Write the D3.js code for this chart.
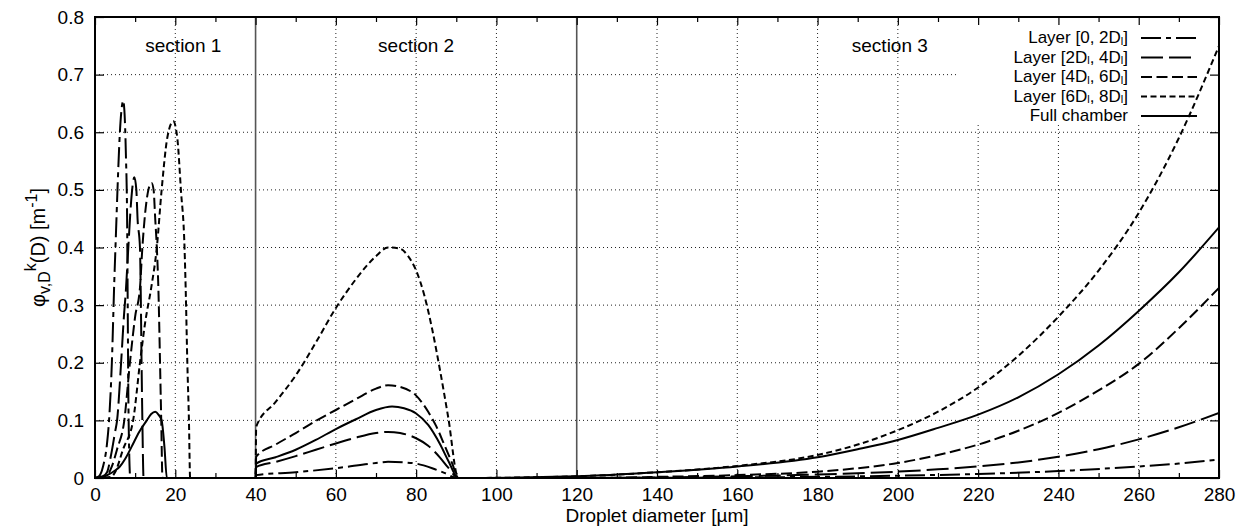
<!DOCTYPE html>
<html>
<head>
<meta charset="utf-8">
<script src="https://cdn.jsdelivr.net/npm/d3@7"></script>
<style>
body { margin: 0; background: #fff; }
svg { font-family: "Liberation Sans", Arial, sans-serif; }
</style>
</head>
<body>
<svg width="1253" height="530"></svg>
<script>
// droplet diameter [um] -> phi value, one array per layer
const layer0 = [[0,0],[1,0.003],[2,0.02],[3,0.06],[3.5,0.1],[4.2,0.2],[4.8,0.34],[5.2,0.42],[5.6,0.5],[6.2,0.6],[6.7,0.645],[7.0,0.655],[7.3,0.64],[7.7,0.56],[8.0,0.45],[8.15,0.3],[8.3,0.15],[8.5,0.05],[8.8,0],
  [40,0],[40.15,0.005],[50,0.01],[60,0.017],[70,0.026],[73,0.028],[77,0.027],[80,0.025],[84,0.017],[87,0.009],[90.3,0],
  [120,0],[160,0.001],[180,0.002],[200,0.004],[220,0.007],[240,0.012],[260,0.02],[270,0.025],[280,0.032]];

const layer2 = [[0,0],[2,0.003],[3,0.01],[4,0.04],[5,0.08],[5.5,0.1],[6.5,0.2],[7.2,0.28],[7.7,0.326],[8.3,0.4],[9,0.48],[9.8,0.522],[10.3,0.5],[10.6,0.45],[11.2,0.4],[11.4,0.32],[11.6,0.2],[11.8,0.1],[12.1,0],
  [40,0],[40.15,0.019],[45,0.028],[50,0.038],[55,0.049],[60,0.06],[65,0.07],[70,0.078],[73,0.08],[76,0.078],[80,0.069],[83,0.056],[86,0.035],[88,0.018],[90.5,0],
  [120,0],[140,0.001],[160,0.003],[180,0.006],[200,0.011],[210,0.015],[220,0.02],[230,0.027],[240,0.037],[250,0.05],[260,0.067],[270,0.088],[280,0.113]];

const layer4 = [[0,0],[3,0.005],[4.2,0.02],[5.5,0.05],[7.3,0.1],[8.7,0.2],[10,0.28],[11.2,0.33],[11.8,0.4],[13.3,0.5],[14.1,0.512],[14.6,0.5],[15,0.45],[15.4,0.4],[15.8,0.326],[16.2,0.2],[16.5,0.1],[16.8,0],
  [40,0],[40.15,0.037],[45,0.058],[50,0.078],[55,0.099],[60,0.118],[65,0.137],[70,0.155],[73,0.161],[76,0.158],[80,0.143],[83,0.115],[85,0.09],[87,0.058],[89,0.025],[90.5,0],
  [120,0],[140,0.002],[160,0.005],[180,0.011],[190,0.017],[200,0.026],[210,0.04],[220,0.058],[230,0.082],[240,0.113],[250,0.152],[260,0.198],[270,0.26],[280,0.33]];

const layer6 = [[0,0],[4,0.002],[5,0.01],[7,0.05],[9.5,0.1],[11.2,0.2],[12.5,0.27],[14,0.33],[15.4,0.4],[16.6,0.5],[18,0.59],[19.5,0.619],[20.5,0.59],[21.4,0.5],[22.3,0.4],[22.6,0.326],[23,0.2],[23.4,0.1],[23.7,0],
  [40,0],[40.15,0.089],[45,0.132],[50,0.178],[55,0.235],[60,0.295],[65,0.345],[70,0.385],[73,0.4],[76,0.398],[78,0.385],[80,0.36],[82,0.318],[84,0.258],[86,0.185],[88,0.105],[90.5,0],
  [120,0.003],[140,0.01],[160,0.021],[180,0.04],[190,0.058],[200,0.083],[210,0.115],[220,0.157],[230,0.212],[240,0.28],[250,0.36],[260,0.46],[270,0.59],[280,0.75]];

const fullChamber = [[0,0],[1,0.0005],[2,0.002],[3.3,0.006],[5,0.013],[6.2,0.02],[7.5,0.033],[9.1,0.054],[11,0.08],[12.9,0.1],[14,0.111],[15,0.115],[15.8,0.11],[16.6,0.1],[17.3,0.054],[17.9,0],
  [40,0],[40.15,0.025],[45,0.036],[50,0.049],[55,0.066],[60,0.085],[65,0.102],[70,0.118],[74,0.124],[77,0.121],[80,0.112],[83,0.092],[86,0.058],[88,0.03],[90.5,0],
  [120,0.003],[140,0.01],[160,0.02],[180,0.036],[190,0.05],[200,0.066],[210,0.087],[220,0.11],[230,0.14],[240,0.18],[250,0.23],[260,0.29],[270,0.357],[280,0.435]];

const seriesNames = ["Layer [0, 2D_l]", "Layer [2D_l, 4D_l]", "Layer [4D_l, 6D_l]", "Layer [6D_l, 8D_l]", "Full chamber"];
const seriesData = [layer0, layer2, layer4, layer6, fullChamber];
const dashes = ["20,5,5,5", "22,6", "11,4.5", "6,3.5", null];

const sectionBounds = [40, 120];
const sectionLabels = [[22, "section 1"], [80, "section 2"], [198, "section 3"]];

const svg = d3.select("svg");
const margin = { top: 17, right: 34, bottom: 52, left: 95 };
const W = 1253, H = 530;
const FS = 19;

const x = d3.scaleLinear().domain([0, 280]).range([margin.left, W - margin.right]);
const y = d3.scaleLinear().domain([0, 0.8]).range([H - margin.bottom, margin.top]);

svg.append("rect").attr("width", W).attr("height", H).attr("fill", "#fff");

svg.append("clipPath").attr("id", "plot")
  .append("rect")
    .attr("x", x(0)).attr("y", y(0.8))
    .attr("width", x(280) - x(0)).attr("height", y(0) - y(0.8));

// grid
const grid = svg.append("g").attr("stroke", "#222").attr("stroke-width", 1).attr("stroke-dasharray", "1,3");
grid.selectAll(".gx")
  .data(d3.range(20, 280, 20).filter(d => !sectionBounds.includes(d)))
  .enter().append("line")
    .attr("x1", d => x(d)).attr("x2", d => x(d))
    .attr("y1", y(0)).attr("y2", y(0.8));
grid.selectAll(".gy")
  .data(d3.range(1, 8).map(d => d / 10))
  .enter().append("line")
    .attr("x1", x(0)).attr("x2", x(280))
    .attr("y1", d => y(d)).attr("y2", d => y(d));

// section dividers
svg.selectAll(".sec")
  .data(sectionBounds)
  .enter().append("line")
    .attr("x1", d => x(d)).attr("x2", d => x(d))
    .attr("y1", y(0)).attr("y2", y(0.8))
    .attr("stroke", "#555").attr("stroke-width", 1.6);

svg.selectAll(".seclabel")
  .data(sectionLabels)
  .enter().append("text")
    .attr("x", d => x(d[0])).attr("y", 52)
    .attr("text-anchor", "middle")
    .attr("font-size", FS)
    .text(d => d[1]);

// key background
svg.append("rect")
  .attr("x", 958).attr("y", y(0.8) + 1)
  .attr("width", x(280) - 958).attr("height", 107)
  .attr("fill", "#fff");

// curves
const line = d3.line()
  .x(d => x(d[0]))
  .y(d => y(d[1]))
  .curve(d3.curveMonotoneX);

svg.append("g").attr("clip-path", "url(#plot)")
  .selectAll("path")
  .data(seriesData)
  .enter().append("path")
    .attr("d", line)
    .attr("fill", "none")
    .attr("stroke", "#000")
    .attr("stroke-width", 2)
    .attr("stroke-dasharray", (d, i) => dashes[i]);

// axes, ticks inward
const tickFont = g => g.selectAll("text").attr("font-size", FS).attr("font-family", "Liberation Sans, Arial, sans-serif").attr("fill", "#000");

svg.append("g")
  .attr("transform", "translate(0," + y(0) + ")")
  .call(d3.axisBottom(x).tickValues(d3.range(0, 281, 20)).tickSizeInner(-8).tickSizeOuter(0).tickPadding(10))
  .call(tickFont);
svg.append("g")
  .attr("transform", "translate(0," + y(0) + ")")
  .call(d3.axisBottom(x).tickValues(d3.range(10, 280, 20)).tickSizeInner(-5).tickSizeOuter(0).tickFormat(""));
svg.append("g")
  .attr("transform", "translate(0," + y(0.8) + ")")
  .call(d3.axisTop(x).tickValues(d3.range(0, 281, 20)).tickSizeInner(-8).tickSizeOuter(0).tickFormat(""));
svg.append("g")
  .attr("transform", "translate(0," + y(0.8) + ")")
  .call(d3.axisTop(x).tickValues(d3.range(10, 280, 20)).tickSizeInner(-5).tickSizeOuter(0).tickFormat(""));

svg.append("g")
  .attr("transform", "translate(" + x(0) + ",0)")
  .call(d3.axisLeft(y).ticks(8).tickSizeInner(-9).tickSizeOuter(0).tickPadding(11)
    .tickFormat(d => d === 0 ? "0" : d3.format(".1f")(d)))
  .call(tickFont);
svg.append("g")
  .attr("transform", "translate(" + x(280) + ",0)")
  .call(d3.axisRight(y).ticks(8).tickSizeInner(-9).tickSizeOuter(0).tickFormat(""));

svg.selectAll(".domain").remove();
svg.selectAll(".tick line").attr("stroke", "#000").attr("stroke-width", 1.2);

// frame
svg.append("rect")
  .attr("x", x(0)).attr("y", y(0.8))
  .attr("width", x(280) - x(0)).attr("height", y(0) - y(0.8))
  .attr("fill", "none").attr("stroke", "#000").attr("stroke-width", 2);

// axis titles
svg.append("text")
  .attr("x", (x(0) + x(280)) / 2).attr("y", 522)
  .attr("text-anchor", "middle").attr("font-size", FS)
  .text("Droplet diameter [µm]");

const yt = svg.append("text")
  .attr("transform", "translate(45," + (y(0) + y(0.8)) / 2 + ") rotate(-90)")
  .attr("text-anchor", "middle").attr("font-size", 20);
yt.append("tspan").text("φ");
yt.append("tspan").attr("font-size", 16).attr("dy", 5).text("v,D");
yt.append("tspan").attr("font-size", 16).attr("dy", -14).text("k");
yt.append("tspan").attr("dy", 9).text("(D) [m");
yt.append("tspan").attr("font-size", 16).attr("dy", -8).text("-1");
yt.append("tspan").attr("dy", 8).text("]");

// key
const key = svg.append("g");
const rowY = i => 38 + i * 19.5;
seriesNames.forEach((name, i) => {
  const t = key.append("text")
    .attr("x", 1128).attr("y", rowY(i) + 5)
    .attr("text-anchor", "end").attr("font-size", 17);
  const parts = name.split("_l");
  parts.forEach((p, j) => {
    t.append("tspan").attr("dy", j > 0 ? -1.5 : 0).text(p);
    if (j < parts.length - 1) t.append("tspan").attr("font-size", 11).attr("dy", 1.5).text("l");
  });
  key.append("line")
    .attr("x1", 1141).attr("x2", 1197)
    .attr("y1", rowY(i)).attr("y2", rowY(i))
    .attr("stroke", "#000").attr("stroke-width", 2)
    .attr("stroke-dasharray", dashes[i]);
});
</script>
</body>
</html>
